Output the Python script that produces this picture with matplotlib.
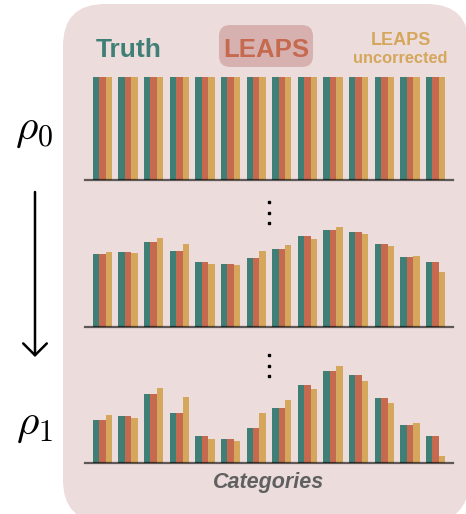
import numpy as np
import matplotlib
matplotlib.use("Agg")
import matplotlib.pyplot as plt
from matplotlib.patches import FancyBboxPatch, FancyArrowPatch

plt.rcParams['mathtext.fontset'] = 'cm'

# ---------------- data ----------------
categories = list(range(14))
series_names = ["Truth", "LEAPS", "LEAPS uncorrected"]

rho0_truth = [1.0] * 14
rho0_leaps = [1.0] * 14
rho0_uncorr = [1.0] * 14

mid_truth = [0.71, 0.73, 0.83, 0.74, 0.63, 0.61, 0.67, 0.76, 0.88, 0.94, 0.92, 0.81, 0.68, 0.63]
mid_leaps = [0.71, 0.73, 0.83, 0.74, 0.63, 0.61, 0.67, 0.76, 0.88, 0.94, 0.92, 0.81, 0.68, 0.63]
mid_uncorr = [0.73, 0.72, 0.86, 0.81, 0.61, 0.60, 0.74, 0.80, 0.85, 0.97, 0.90, 0.79, 0.69, 0.53]

rho1_truth = [0.42, 0.46, 0.67, 0.49, 0.26, 0.23, 0.34, 0.53, 0.76, 0.89, 0.85, 0.63, 0.37, 0.26]
rho1_leaps = [0.42, 0.46, 0.67, 0.49, 0.26, 0.23, 0.34, 0.53, 0.76, 0.89, 0.85, 0.63, 0.37, 0.26]
rho1_uncorr = [0.47, 0.44, 0.73, 0.64, 0.23, 0.21, 0.49, 0.61, 0.72, 0.94, 0.80, 0.58, 0.39, 0.07]

panels = [
    (rho0_truth, rho0_leaps, rho0_uncorr),
    (mid_truth, mid_leaps, mid_uncorr),
    (rho1_truth, rho1_leaps, rho1_uncorr),
]

# ---------------- style ----------------
TEAL = "#3f7f75"
RED = "#c5694f"
YELLOW = "#d5a75c"
BG = "#ecdcdc"
BOX = "#d7b1af"

W, H = 466, 514
fig = plt.figure(figsize=(W / 100, H / 100), dpi=100)
fig.patch.set_facecolor("white")

# background / annotation layer in pixel units
bg = fig.add_axes([0, 0, 1, 1])
bg.set_xlim(0, W)
bg.set_ylim(0, H)
bg.axis("off")

def Y(y):
    return H - y

R = 42
bg.add_patch(FancyBboxPatch((63, Y(522)), 406, 518, boxstyle=f"round,pad=0,rounding_size={R}",
                            facecolor=BG, edgecolor="none", zorder=0))

# legend-like header
bg.text(128.5, Y(57), "Truth", color=TEAL, fontsize=19, fontweight="bold",
        family="Liberation Sans", ha="center", va="baseline")
bg.add_patch(FancyBboxPatch((219, Y(67)), 94, 42, boxstyle="round,pad=0,rounding_size=11",
                            facecolor=BOX, edgecolor="none", zorder=1))
bg.text(266, Y(57), "LEAPS", color=RED, fontsize=18.5, fontweight="bold",
        family="Liberation Sans", ha="center", va="baseline", zorder=2)
bg.text(401, Y(45), "LEAPS", color=YELLOW, fontsize=13, fontweight="bold",
        family="Liberation Sans", ha="center", va="baseline")
bg.text(400, Y(63), "uncorrected", color=YELLOW, fontsize=11.8, fontweight="bold",
        family="Liberation Sans", ha="center", va="baseline")

# left labels & arrow
bg.text(34, Y(129), r"$\rho_0$", fontsize=31, ha="center", va="center")
bg.text(34, Y(424), r"$\rho_1$", fontsize=31, ha="center", va="center")
bg.add_patch(FancyArrowPatch((35, Y(192)), (35, Y(357)),
                             arrowstyle="->,head_length=0.85,head_width=0.85",
                             mutation_scale=10, lw=1.8, color="black",
                             shrinkA=0, shrinkB=0))

# category label
bg.text(268.5, Y(488), "Categories", color="#606060", fontsize=15.5, fontweight="bold",
        fontstyle="italic", family="Liberation Sans", ha="center", va="baseline")

# ---------------- bar panels ----------------
baselines = [180, 327, 463]
ax_h = 130
x0, x1 = 85, 453
x = np.arange(len(categories))
bw = 0.25
unit = 103.0  # pixel height of value 1.0

for (truth, leaps, uncorr), base in zip(panels, baselines):
    ax = fig.add_axes([x0 / W, (H - base) / H, (x1 - x0) / W, ax_h / H])
    ax.patch.set_alpha(0)
    ax.bar(x - bw, truth, bw, color=TEAL, linewidth=0, zorder=2)
    ax.bar(x, leaps, bw, color=RED, linewidth=0, zorder=2)
    ax.bar(x + bw, uncorr, bw, color=YELLOW, linewidth=0, zorder=2)
    ax.set_xlim(-0.68, len(categories) - 1 + 0.68)
    ax.set_ylim(0, ax_h / unit)
    ax.axhline(0, color="black", alpha=0.6, lw=1.6, zorder=3, clip_on=False)
    ax.axis("off")

# vertical ellipses between panels
for ys in ([202, 212.5, 223], [355, 365.5, 376]):
    bg.plot([269] * 3, [Y(v) for v in ys], linestyle="none", marker="s",
            ms=2.0, color="black")

fig.savefig("out.png", dpi=100)
